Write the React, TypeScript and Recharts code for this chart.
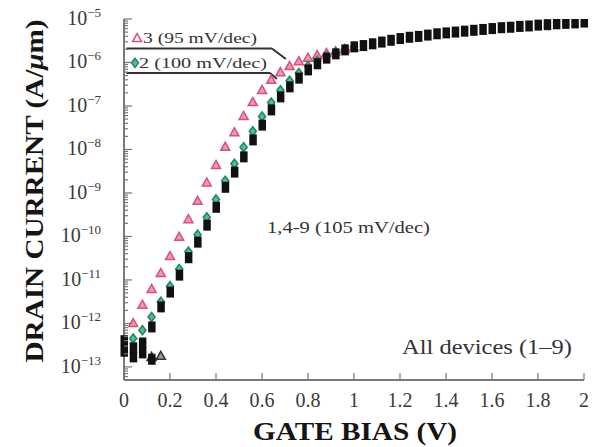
import React from "react";
import { ScatterChart, Scatter, XAxis, YAxis, ReferenceLine, ReferenceDot } from "recharts";

const SERIF = "'Times New Roman', 'Liberation Serif', Times, serif";

// gate bias sweep (V)
const VOLTS = [
  0, 0.04, 0.08, 0.12, 0.16, 0.2, 0.24, 0.28, 0.32, 0.36, 0.4, 0.44, 0.48, 0.52, 0.56, 0.6, 0.64,
  0.68, 0.72, 0.76, 0.8, 0.84, 0.88, 0.92, 0.96, 1.0, 1.04, 1.08, 1.12, 1.16, 1.2, 1.24, 1.28,
  1.32, 1.36, 1.4, 1.44, 1.48, 1.52, 1.56, 1.6, 1.64, 1.68, 1.72, 1.76, 1.8, 1.84, 1.88, 1.92,
  1.96, 2.0,
];

// drain current (A/um), devices 1,4-9
const DEV_149 = [
  4.0e-13, 2.75e-13, 3.55e-13, 8.3e-13, 2.4e-12, 5.25e-12, 1.29e-11, 3.24e-11, 7.4e-11, 1.82e-10,
  4.68e-10, 1.35e-9, 3.02e-9, 6.76e-9, 1.66e-8, 3.63e-8, 8.13e-8, 1.62e-7, 2.75e-7, 4.37e-7,
  6.76e-7, 9.33e-7, 1.26e-6, 1.58e-6, 1.95e-6, 2.29e-6, 2.45e-6, 2.69e-6, 2.95e-6, 3.24e-6,
  3.55e-6, 3.8e-6, 3.98e-6, 4.27e-6, 4.57e-6, 4.79e-6, 5.01e-6, 5.25e-6, 5.5e-6, 5.75e-6,
  6.03e-6, 6.31e-6, 6.46e-6, 6.76e-6, 6.92e-6, 7.24e-6, 7.41e-6, 7.76e-6, 7.94e-6, 8.13e-6,
  8.51e-6,
];

// device 2
const DEV_2 = [
  null, 4.5e-13, 7.0e-13, 1.41e-12, 3.16e-12, 7.2e-12, 1.78e-11, 4.47e-11, 1.1e-10, 2.75e-10,
  7.1e-10, 1.9e-9, 4.7e-9, 1.12e-8, 2.63e-8, 5.75e-8, 1.2e-7, 2.29e-7, 3.8e-7, 5.75e-7, 8.3e-7,
  1.1e-6, 1.38e-6, 1.7e-6, 2.0e-6, 2.3e-6,
];

// device 3
const DEV_3 = [
  null, 1.02e-12, 2.7e-12, 6.2e-12, 1.45e-11, 3.55e-11, 9.8e-11, 2.5e-10, 6.6e-10, 1.74e-9,
  4.4e-9, 1.15e-8, 2.5e-8, 5.9e-8, 1.23e-7, 2.34e-7, 4.0e-7, 6.0e-7, 8.3e-7, 1.07e-6, 1.29e-6,
  1.48e-6, 1.66e-6, 1.82e-6, 2.04e-6, 2.24e-6,
];

// noise floor readings of the low-leakage devices
const FLOOR_SQ_V = [0, 0.04, 0.08, 0.12];
const FLOOR_SQ_I = [2.3e-13, 1.7e-13, 2.1e-13, 1.5e-13];
const FLOOR_TRI_V = [0.12, 0.16];
const FLOOR_TRI_I = [1.7e-13, 1.8e-13];

const X_TICKS = [0, 0.2, 0.4, 0.6, 0.8, 1, 1.2, 1.4, 1.6, 1.8, 2];
const Y_MAJOR = [1e-13, 1e-12, 1e-11, 1e-10, 1e-9, 1e-8, 1e-7, 1e-6, 1e-5];
const Y_EXP = ["−13", "−12", "−11", "−10", "−9", "−8", "−7", "−6", "−5"];

const Y_MINOR = [6e-14, 7e-14, 8e-14, 9e-14].concat(
  ...Y_MAJOR.slice(0, -1).map((d) => [2, 3, 4, 5, 6, 7, 8, 9].map((m) => d * m))
);
const Y_TICKS = [...Y_MAJOR, ...Y_MINOR];

const PLOT = { left: 124, right: 584, top: 19, bottom: 380 };

const pts = (xs: number[], ys: (number | null)[]) =>
  ys.map((y, i) => ({ x: xs[i], y })).filter((p) => p.y != null);

const black = pts(VOLTS, DEV_149);
const green = pts(VOLTS, DEV_2);
const pink = pts(VOLTS, DEV_3);
const floorSq = pts(FLOOR_SQ_V, FLOOR_SQ_I);
const floorTri = pts(FLOOR_TRI_V, FLOOR_TRI_I);

const Square = ({ cx, cy }: any) => <rect x={cx - 3.5} y={cy - 5.5} width={7.5} height={11} fill="#111" />;
const Diamond = ({ cx, cy }: any) => (
  <path
    d={`M${cx},${cy - 4.5}L${cx + 3.5},${cy}L${cx},${cy + 4.5}L${cx - 3.5},${cy}Z`}
    fill="#5fb98f"
    stroke="#1f8a5c"
    strokeWidth={1.6}
  />
);
const Triangle = ({ cx, cy, color = "#d9507a", fill = "#eb9ab0" }: any) => (
  <path
    d={`M${cx},${cy - 4.5}L${cx + 4.5},${cy + 3.5}L${cx - 4.5},${cy + 3.5}Z`}
    fill={fill}
    stroke={color}
    strokeWidth={1.5}
  />
);
const DarkTriangle = (p: any) => <Triangle {...p} color="#333" fill="#999" />;

function LeftTick({ y, payload }: any) {
  const i = Y_MAJOR.indexOf(payload.value);
  const len = i >= 0 ? 8 : 4;
  return (
    <g>
      <line x1={PLOT.left} x2={PLOT.left + len} y1={y} y2={y} stroke="#777" strokeWidth={1.2} />
      {i >= 0 && (
        <text x={101} y={y + 6} textAnchor="end" fontSize={20} fill="#3a3a3a" fontFamily={SERIF}>
          10
          <tspan dy={-8} fontSize={13}>
            {Y_EXP[i]}
          </tspan>
        </text>
      )}
    </g>
  );
}

function RightTick({ y, payload }: any) {
  const len = Y_MAJOR.indexOf(payload.value) >= 0 ? 8 : 4;
  return <line x1={PLOT.right} x2={PLOT.right - len} y1={y} y2={y} stroke="#777" strokeWidth={1.2} />;
}

function BottomTick({ x, payload }: any) {
  return (
    <g>
      <line x1={x} x2={x} y1={PLOT.bottom} y2={PLOT.bottom - 7} stroke="#777" strokeWidth={1.2} />
      <text x={x} y={407} textAnchor="middle" fontSize={20} fill="#3a3a3a" fontFamily={SERIF}>
        {String(payload.value)}
      </text>
    </g>
  );
}

function TopTick({ x }: any) {
  return <line x1={x} x2={x} y1={PLOT.top} y2={PLOT.top + 7} stroke="#777" strokeWidth={1.2} />;
}

const axisStroke = { stroke: "#7a7a7a", strokeWidth: 2 };

export default function App() {
  return (
    <div style={{ position: "absolute", left: 0, top: 0, width: 594, height: 447, background: "#fff" }}>
      <ScatterChart width={594} height={447} margin={{ top: 19, right: 10, bottom: 0, left: 0 }}>
        <XAxis
          dataKey="x"
          type="number"
          domain={[0, 2]}
          ticks={X_TICKS}
          interval={0}
          height={67}
          axisLine={axisStroke}
          tickLine={false}
          tick={<BottomTick />}
        />
        <XAxis
          xAxisId="top"
          orientation="top"
          type="number"
          domain={[0, 2]}
          ticks={X_TICKS}
          interval={0}
          height={0}
          axisLine={axisStroke}
          tickLine={false}
          tick={<TopTick />}
        />
        <YAxis
          dataKey="y"
          type="number"
          scale="log"
          domain={[5e-14, 1e-5]}
          allowDataOverflow
          ticks={Y_TICKS}
          interval={0}
          width={124}
          axisLine={axisStroke}
          tickLine={false}
          tick={<LeftTick />}
        />
        <YAxis
          yAxisId="right"
          orientation="right"
          type="number"
          scale="log"
          domain={[5e-14, 1e-5]}
          allowDataOverflow
          ticks={Y_TICKS}
          interval={0}
          width={0}
          axisLine={axisStroke}
          tickLine={false}
          tick={<RightTick />}
        />

        <ReferenceLine
          segment={[{ x: 0.01, y: 2.1e-6 }, { x: 0.643, y: 2.1e-6 }]}
          stroke="#333"
          strokeWidth={2}
        />
        <ReferenceLine
          segment={[{ x: 0.643, y: 2.1e-6 }, { x: 0.704, y: 1.2e-6 }]}
          stroke="#333"
          strokeWidth={2}
        />
        <ReferenceLine
          segment={[{ x: 0.01, y: 5.74e-7 }, { x: 0.635, y: 5.74e-7 }]}
          stroke="#333"
          strokeWidth={2}
        />
        <ReferenceLine
          segment={[{ x: 0.635, y: 5.74e-7 }, { x: 0.665, y: 4.18e-7 }]}
          stroke="#333"
          strokeWidth={2}
        />
        <ReferenceDot x={0.057} y={3.65e-6} r={4} shape={(p: any) => <Triangle {...p} />} />
        <ReferenceDot x={0.048} y={9.8e-7} r={4} shape={(p: any) => <Diamond {...p} />} />

        <Scatter name="3 (95 mV/dec)" data={pink} shape={<Triangle />} isAnimationActive={false} />
        <Scatter name="2 (100 mV/dec)" data={green} shape={<Diamond />} isAnimationActive={false} />
        <Scatter name="floor" data={floorTri} shape={<DarkTriangle />} isAnimationActive={false} />
        <Scatter name="floor sq" data={floorSq} shape={<Square />} isAnimationActive={false} />
        <Scatter name="1,4-9 (105 mV/dec)" data={black} shape={<Square />} isAnimationActive={false} />
      </ScatterChart>

      <svg
        width={594}
        height={447}
        style={{ position: "absolute", left: 0, top: 0, pointerEvents: "none" }}
        fontFamily={SERIF}
      >
        <text
          transform="translate(43,191) rotate(-90)"
          textAnchor="middle"
          fontSize={26}
          fontWeight="bold"
          fill="#151515"
          textLength={343}
          lengthAdjust="spacingAndGlyphs"
        >
          DRAIN CURRENT (A/<tspan fontStyle="italic">μ</tspan>m)
        </text>
        <text
          x={355}
          y={440}
          textAnchor="middle"
          fontSize={25}
          fontWeight="bold"
          fill="#151515"
          textLength={204}
          lengthAdjust="spacingAndGlyphs"
        >
          GATE BIAS (V)
        </text>
        <text x={143} y={43} fontSize={15} fill="#333" textLength={114} lengthAdjust="spacingAndGlyphs">
          3 (95 mV/dec)
        </text>
        <text x={139} y={68} fontSize={15} fill="#333" textLength={128} lengthAdjust="spacingAndGlyphs">
          2 (100 mV/dec)
        </text>
        <text x={267} y={233} fontSize={17} fill="#333" textLength={163} lengthAdjust="spacingAndGlyphs">
          1,4-9 (105 mV/dec)
        </text>
        <text x={402} y={354} fontSize={20} fill="#333" textLength={170} lengthAdjust="spacingAndGlyphs">
          All devices (1–9)
        </text>
      </svg>
    </div>
  );
}
